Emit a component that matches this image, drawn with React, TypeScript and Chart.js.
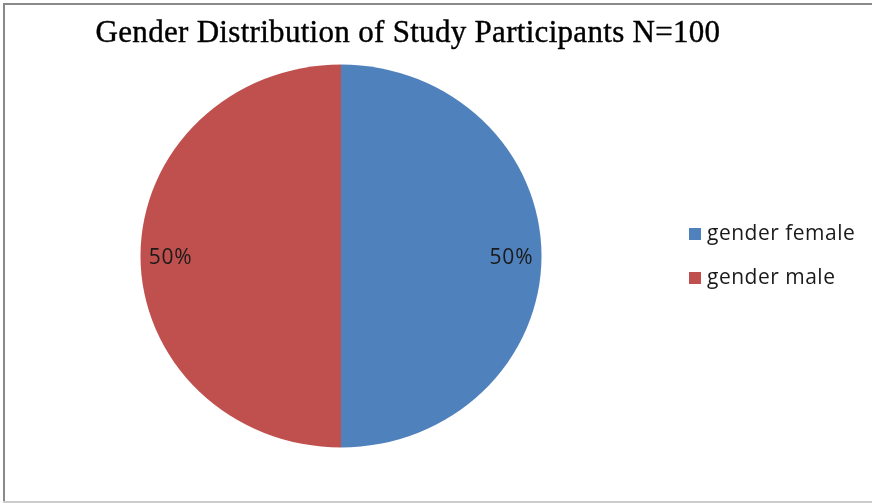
import React, { useEffect, useRef } from "react";
import { Chart, registerables } from "chart.js";

Chart.register(...registerables);

const categories = ["gender female", "gender male"];
const values = [50, 50];
const percentLabels = ["50%", "50%"];
const colors = ["#4F81BD", "#C0504D"];
const titleText = "Gender Distribution of Study Participants N=100";

const SX = 1.023;
const SY = 0.977;

const framePlugin = {
  id: "frame",
  beforeDraw(chart: any) {
    const ctx = chart.ctx;
    ctx.save();
    ctx.fillStyle = "#fff";
    ctx.fillRect(0, 0, chart.width, chart.height);
    ctx.fillStyle = "#8a8a8a";
    ctx.fillRect(3, 3, chart.width - 3, 2);
    ctx.fillRect(3, 3, 2, chart.height - 5);
    ctx.fillStyle = "#cccccc";
    ctx.fillRect(3, chart.height - 3, chart.width - 3, 2);
    ctx.restore();
  },
};

const stretchPlugin = {
  id: "stretch",
  beforeDatasetsDraw(chart: any) {
    const ctx = chart.ctx;
    const a = chart.chartArea;
    const cx = (a.left + a.right) / 2;
    const cy = (a.top + a.bottom) / 2;
    ctx.save();
    ctx.translate(cx, cy);
    ctx.scale(SX, SY);
    ctx.translate(-cx, -cy);
  },
  afterDatasetsDraw(chart: any) {
    chart.ctx.restore();
  },
};

const titlePlugin = {
  id: "customTitle",
  afterDraw(chart: any) {
    const ctx = chart.ctx;
    ctx.save();
    ctx.fillStyle = "#000";
    ctx.strokeStyle = "#000";
    ctx.lineWidth = 0.4;
    ctx.font = "31px 'Liberation Serif', serif";
    (ctx as any).letterSpacing = "0.3px";
    ctx.textAlign = "center";
    ctx.textBaseline = "alphabetic";
    ctx.fillText(titleText, 408, 42);
    ctx.strokeText(titleText, 408, 42);
    ctx.restore();
  },
};

const sliceLabelPlugin = {
  id: "sliceLabels",
  afterDraw(chart: any) {
    const ctx = chart.ctx;
    const meta = chart.getDatasetMeta(0);
    ctx.save();
    ctx.fillStyle = "#1a1a1a";
    ctx.font = "21px 'Open Sans', sans-serif";
    (ctx as any).letterSpacing = "0.8px";
    ctx.textAlign = "center";
    ctx.textBaseline = "middle";
    meta.data.forEach((arc: any, i: number) => {
      const p = arc.getProps(["x", "y", "startAngle", "endAngle", "outerRadius"], true);
      const mid = (p.startAngle + p.endAngle) / 2;
      const r = p.outerRadius * 0.85;
      ctx.fillText(percentLabels[i], p.x + Math.cos(mid) * r * SX, p.y + Math.sin(mid) * r * SY + 2);
    });
    ctx.restore();
  },
};

const legendPlugin = {
  id: "customLegend",
  afterDraw(chart: any) {
    const ctx = chart.ctx;
    const labels = chart.data.labels as string[];
    const bg = chart.data.datasets[0].backgroundColor as string[];
    ctx.save();
    ctx.font = "21px 'Open Sans', sans-serif";
    (ctx as any).letterSpacing = "0.5px";
    ctx.textAlign = "left";
    ctx.textBaseline = "middle";
    labels.forEach((lab, i) => {
      const cy = 234 + i * 44;
      ctx.fillStyle = bg[i];
      ctx.fillRect(689, cy - 6, 12, 12);
      ctx.fillStyle = "#1a1a1a";
      ctx.fillText(lab, 707, cy);
    });
    ctx.restore();
  },
};

export default function App() {
  const ref = useRef<HTMLCanvasElement>(null);
  useEffect(() => {
    document.body.style.margin = "0";
    const chart = new Chart(ref.current!, {
      type: "pie",
      data: {
        labels: categories,
        datasets: [
          {
            data: values,
            backgroundColor: colors,
            borderWidth: 0,
          },
        ],
      },
      options: {
        animation: false,
        responsive: false,
        maintainAspectRatio: false,
        layout: { padding: { left: 145, right: 335, top: 60, bottom: 52 } },
        plugins: {
          legend: { display: false },
          title: { display: false },
          tooltip: { enabled: false },
        },
      },
      plugins: [framePlugin, stretchPlugin, titlePlugin, sliceLabelPlugin, legendPlugin],
    });
    return () => chart.destroy();
  }, []);
  return (
    <div style={{ position: "relative", width: 872, height: 504, background: "#fff", overflow: "hidden" }}>
      <canvas ref={ref} width={872} height={504} style={{ display: "block", width: 872, height: 504 }} />
    </div>
  );
}
